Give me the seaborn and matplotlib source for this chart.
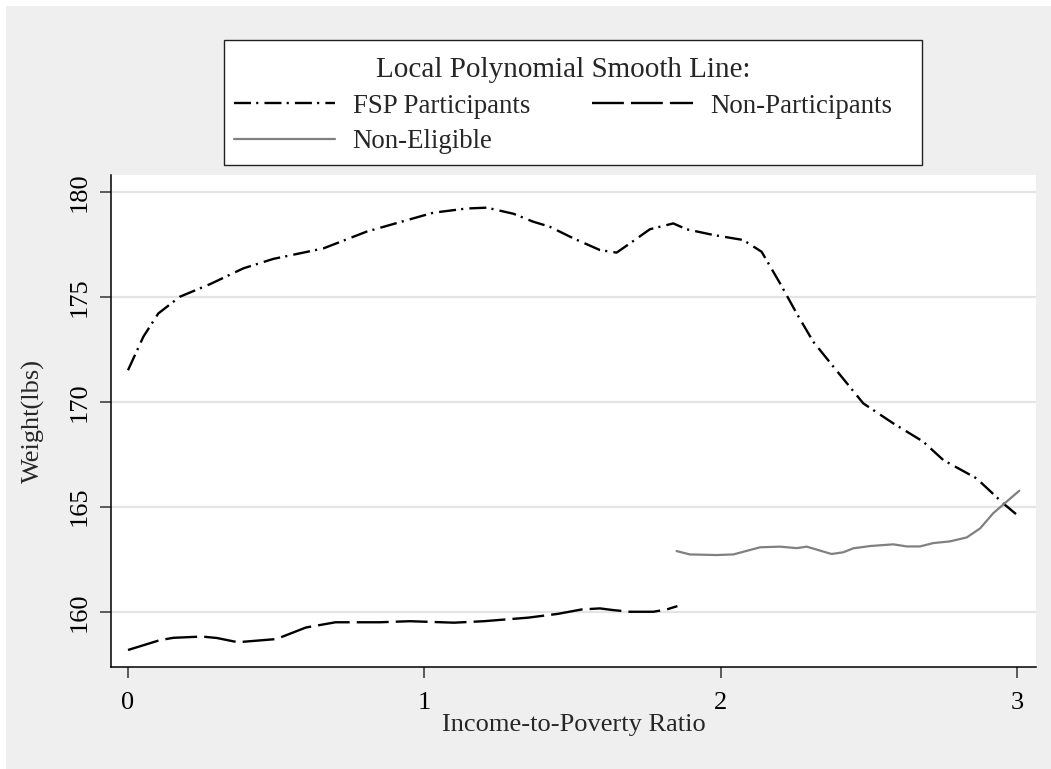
import numpy as np
import pandas as pd
import matplotlib
matplotlib.use("Agg")
import matplotlib.pyplot as plt
from matplotlib.patches import Rectangle
import seaborn as sns

# Local polynomial smooths of weight by income-to-poverty ratio
fsp_x = [0.0, 0.052, 0.102, 0.175, 0.277, 0.389, 0.49, 0.659, 0.805, 0.917, 1.03,
         1.142, 1.21, 1.30, 1.367, 1.423, 1.502, 1.592, 1.648, 1.693, 1.76, 1.839,
         1.884, 1.974, 2.075, 2.137, 2.199, 2.255, 2.311, 2.379, 2.48, 2.581,
         2.682, 2.75, 2.862, 2.952, 2.995]
fsp_y = [171.5, 173.1, 174.2, 175.0, 175.6, 176.35, 176.8, 177.3, 178.1, 178.55, 179.0,
         179.2, 179.24, 178.95, 178.57, 178.33, 177.78, 177.22, 177.1, 177.54, 178.21, 178.49,
         178.21, 177.94, 177.7, 177.14, 175.64, 174.21, 172.86, 171.67, 169.92, 168.97,
         168.1, 167.22, 166.35, 165.16, 164.65]

nonpart_x = [0.0, 0.108, 0.153, 0.25, 0.30, 0.37, 0.5, 0.6, 0.7, 0.85, 0.95, 1.1,
             1.2, 1.35, 1.45, 1.53, 1.592, 1.636, 1.693, 1.772, 1.817, 1.853]
nonpart_y = [158.18, 158.65, 158.76, 158.82, 158.75, 158.55, 158.7, 159.25, 159.5, 159.5,
             159.55, 159.48, 159.55, 159.72, 159.9, 160.11, 160.16, 160.08, 160.0, 160.0,
             160.11, 160.27]

nonelig_x = [1.85, 1.895, 1.985, 2.042, 2.132, 2.199, 2.255, 2.289, 2.373, 2.412, 2.446,
             2.503, 2.581, 2.627, 2.671, 2.716, 2.772, 2.829, 2.874, 2.918, 2.963, 3.006]
nonelig_y = [162.89, 162.73, 162.7, 162.73, 163.07, 163.1, 163.03, 163.1, 162.75, 162.83, 163.02,
             163.13, 163.21, 163.11, 163.11, 163.27, 163.35, 163.54, 163.97, 164.69, 165.24, 165.76]

group_names = ["FSP Participants", "Non-Participants", "Non-Eligible"]
x_ticks = [0, 1, 2, 3]
y_ticks = [160, 165, 170, 175, 180]

df = pd.concat([
    pd.DataFrame({"ratio": fsp_x, "weight": fsp_y, "group": group_names[0]}),
    pd.DataFrame({"ratio": nonpart_x, "weight": nonpart_y, "group": group_names[1]}),
    pd.DataFrame({"ratio": nonelig_x, "weight": nonelig_y, "group": group_names[2]}),
], ignore_index=True)

sns.set_style("white")
plt.rcParams["font.family"] = ["Liberation Serif", "DejaVu Serif"]

W, H = 1051, 769
fig = plt.figure(figsize=(W / 100, H / 100), dpi=100)
fig.patch.set_facecolor("white")
bg = "#efefef"
fig.patches.append(Rectangle((6 / W, 0), 1 - 6 / W, 1 - 6 / H, transform=fig.transFigure,
                             facecolor=bg, edgecolor="none", zorder=-10))

ax = fig.add_axes([111.3 / W, 1 - 667 / H, (1036 - 111.3) / W, (667 - 175) / H])
ax.set_facecolor("white")

styles = {
    group_names[0]: dict(color="black", lw=1.7, linestyle=(0, (7.2, 2.2, 0.9, 2.6))),
    group_names[1]: dict(color="black", lw=1.7, linestyle=(0, (13.5, 3.0))),
    group_names[2]: dict(color="#808080", lw=1.6, linestyle="-"),
}
handles = {}
for g in group_names:
    sub = df[df["group"] == g]
    sns.lineplot(data=sub, x="ratio", y="weight", ax=ax, legend=False, sort=True,
                 estimator=None, **styles[g])
    handles[g] = ax.get_lines()[-1]

ax.set_xlim(-0.0563, 3.0624)
ax.set_ylim(157.37, 180.795)
ax.set_xticks(x_ticks)
ax.set_yticks(y_ticks)
ax.set_xticklabels([str(v) for v in x_ticks])
ax.set_yticklabels([str(v) for v in y_ticks], rotation=90, va="center")

ax.yaxis.grid(True, color="#e4e4e4", lw=1.6)
ax.xaxis.grid(False)
ax.set_axisbelow(True)
for s in ["top", "right"]:
    ax.spines[s].set_visible(False)
for s in ["left", "bottom"]:
    ax.spines[s].set_color("black")
    ax.spines[s].set_linewidth(1.1)

ax.tick_params(axis="both", direction="out", length=8, width=1.1, color="#333333",
               labelsize=19, labelcolor="black")
ax.tick_params(axis="y", pad=7, left=True)
ax.tick_params(axis="x", pad=10, bottom=True)

ax.set_xlabel("Income-to-Poverty Ratio", fontsize=19, labelpad=0)
ax.set_ylabel("Weight(lbs)", fontsize=19, labelpad=17)

# Legend frame and contents
fig.patches.append(Rectangle((224 / W, 1 - 165 / H), (922 - 224) / W, (165 - 40) / H,
                             transform=fig.transFigure, facecolor="white",
                             edgecolor="#222222", lw=1.0, zorder=1))
order = [group_names[0], group_names[2], group_names[1]]
leg = fig.legend([handles[g] for g in order], order, ncol=2, frameon=False,
                 loc="upper left", bbox_to_anchor=(234 / W, 1 - 57 / H),
                 fontsize=19.4, title="Local Polynomial Smooth Line:",
                 title_fontsize=21, handlelength=3.75, handletextpad=0.65,
                 columnspacing=2.3, labelspacing=0.39, borderpad=0.0,
                 borderaxespad=0.0)
leg.set_zorder(2)

fig.savefig("out.png", dpi=100, facecolor=fig.get_facecolor())
